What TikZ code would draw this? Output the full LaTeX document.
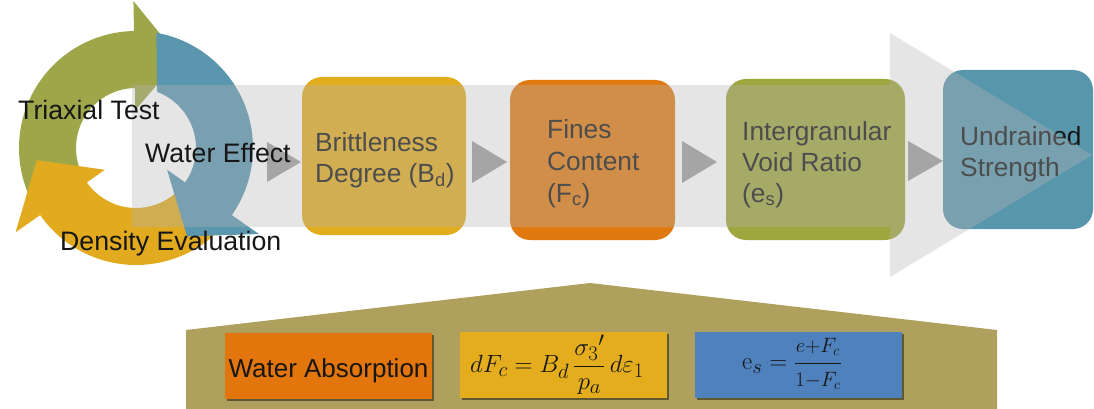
\documentclass[tikz,border=0pt]{standalone}
\usepackage[no-math]{fontspec}
\setmainfont{Liberation Sans}
\usepackage{amsmath}
\usetikzlibrary{shadows}
\definecolor{cgreen}{RGB}{158,166,74}
\definecolor{cblue}{RGB}{90,150,174}
\definecolor{cyel}{RGB}{226,170,30}
\definecolor{bxyel}{RGB}{226,172,28}
\definecolor{bxorg}{RGB}{224,122,16}
\definecolor{bxgrn}{RGB}{157,167,62}
\definecolor{bxblu}{RGB}{88,150,172}
\definecolor{ovl}{RGB}{180,180,180}
\definecolor{trig}{RGB}{165,165,165}
\definecolor{housec}{RGB}{176,160,94}
\definecolor{waorg}{RGB}{226,117,12}
\definecolor{fmyel}{RGB}{227,173,30}
\definecolor{fmblu}{RGB}{79,129,189}
\definecolor{txtc}{RGB}{22,22,22}
\begin{document}
\begin{tikzpicture}[x=1pt,y=-1pt,
  stagebox/.style={rounded corners=20pt, inner sep=0pt, draw=none},
  btxt/.style={inner sep=0pt, anchor=base west, text=txtc, font=\fontsize{26.3}{30}\selectfont},
  lbl/.style={inner sep=0pt, anchor=base west, text=txtc, font=\fontsize{26.7}{30}\selectfont},
  eqbox/.style={inner sep=0pt, minimum width=207pt, minimum height=66pt,
     drop shadow={shadow xshift=2pt, shadow yshift=-2pt, opacity=0.45, fill=black}},
  arrowtri/.style={fill=trig},
  overlay/.style={fill=ovl, fill opacity=0.35}
]
\useasboundingbox (0,0) rectangle (1094,409);

% ---- cycle of three arrows
\begin{scope}[shift={(136pt,-148pt)}]
\fill[cgreen] (205:117pt) arc[start angle=205,end angle=91,radius=117pt]
  -- (91:147pt) -- (64:100pt) -- (91:38pt) -- (91:60pt)
  arc[start angle=91,end angle=205,radius=60pt] -- cycle;
\fill[cyel] (-45:117pt) arc[start angle=-45,end angle=-145,radius=117pt]
  -- (-145:147pt) -- (-173:100pt) -- (-145:38pt) -- (-145:60pt)
  arc[start angle=-145,end angle=-45,radius=60pt] -- cycle;
\fill[cblue] (80:117pt) arc[start angle=80,end angle=-35,radius=117pt]
  -- (-35:150pt) -- (-60:102pt) -- (-35:38pt) -- (-35:60pt)
  arc[start angle=-35,end angle=69.5,radius=60pt] -- cycle;
\end{scope}

% ---- stage boxes
\node[stagebox, fill=bxyel, minimum width=164pt, minimum height=158pt] (bd) at (384,156) {};
\node[stagebox, fill=bxorg, minimum width=165pt, minimum height=160pt] (fc) at (592.5,160) {};
\node[stagebox, fill=bxgrn, minimum width=179pt, minimum height=161pt] (es) at (815.5,159.5) {};
\node[stagebox, fill=bxblu, minimum width=150pt, minimum height=159pt] (us) at (1018,149.5) {};

\node[btxt] (bd1) at (315,151) {Brittleness};
\node[btxt] (bd2) at (315,182) {Degree (B\textsubscript{d})};
\node[btxt] (fc1) at (547,139) {Fines};
\node[btxt] (fc2) at (547,170) {Content};
\node[btxt] (fc3) at (547,202) {(F\textsubscript{c})};
\node[btxt] (es1) at (742,140) {Intergranular};
\node[btxt] (es2) at (742,171) {Void Ratio};
\node[btxt] (es3) at (742,202) {(e\textsubscript{s})};
\node[btxt] (us1) at (960,145) {Undrained};
\node[btxt] (us2) at (960,176) {Strength};

% ---- translucent big arrow
\fill[overlay] (132,85) -- (890,85) -- (890,33) -- (1092,155) -- (890,277)
  -- (890,227) -- (132,227) -- cycle;

% ---- small arrow triangles
\fill[arrowtri] (267,142) -- (301,162) -- (267,182) -- cycle;
\fill[arrowtri] (472,141) -- (507,162) -- (472,183) -- cycle;
\fill[arrowtri] (682,141) -- (717,162) -- (682,183) -- cycle;
\fill[arrowtri] (908,141) -- (943,161) -- (908,181) -- cycle;

% ---- cycle labels
\node[lbl] (tt) at (18,120) {Triaxial Test};
\node[lbl] (we) at (145,162) {Water Effect};
\node[lbl] (de) at (60,250) {Density Evaluation};

% ---- bottom house
\fill[housec] (186,409) -- (186,330) -- (590,283) -- (997,330) -- (997,409) -- cycle;
\node[eqbox, fill=waorg] (wa) at (328.5,366) {};
\node[eqbox, fill=fmyel] (fm) at (563.5,365) {};
\node[eqbox, fill=fmblu] (eb) at (798.5,365) {};
\node[inner sep=0pt, anchor=base, text=txtc, font=\fontsize{26}{30}\selectfont] (wat) at (328.5,377) {Water Absorption};
\node[inner sep=0pt, text=txtc, font=\fontsize{28}{32}\selectfont] (fmt) at (557,365)
  {$\displaystyle dF_c = B_d\,\frac{{\sigma_3}'}{p_a}\,d\varepsilon_1$};
\node[inner sep=0pt, text=txtc, font=\fontsize{29}{34}\selectfont] (ebt) at (792,364)
  {$\mathrm{e}_s = \dfrac{\scriptstyle e+F_c}{\scriptstyle 1-F_c}$};
\end{tikzpicture}
\end{document}
